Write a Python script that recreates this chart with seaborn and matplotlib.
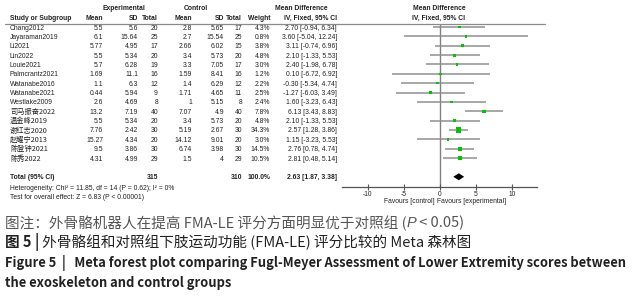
import matplotlib
matplotlib.use("Agg")
import matplotlib.pyplot as plt
import matplotlib.transforms as mtransforms
from matplotlib.lines import Line2D
import seaborn as sns
import pandas as pd

# study-level data
studies = ["Chang2012", "Jayaraman2019", "Li2021", "Lin2022", "Louie2021",
           "Palmcrantz2021", "Watanabe2016", "Watanabe2021", "Westlake2009",
           "司马振奋2022", "温金峰2019", "谢红志2020", "赵耀宁2013",
           "陈登钟2021", "陈秀2022"]
exp_mean = [5.5, 6.1, 5.77, 5.5, 5.7, 1.69, 1.1, 0.44, 2.6, 13.2, 5.5, 7.76, 15.27, 9.5, 4.31]
exp_sd = [5.6, 15.64, 4.95, 5.34, 6.28, 11.1, 6.3, 5.94, 4.69, 7.19, 5.34, 2.42, 4.34, 3.86, 4.99]
exp_n = [20, 25, 17, 20, 19, 16, 12, 9, 8, 40, 20, 30, 20, 30, 29]
ctl_mean = [2.8, 2.7, 2.66, 3.4, 3.3, 1.59, 1.4, 1.71, 1, 7.07, 3.4, 5.19, 14.12, 6.74, 1.5]
ctl_sd = [5.65, 15.54, 6.02, 5.73, 7.05, 8.41, 6.29, 4.65, 5.15, 4.9, 5.73, 2.67, 9.01, 3.98, 4]
ctl_n = [17, 25, 15, 20, 17, 16, 12, 11, 8, 40, 20, 30, 20, 30, 29]
weight = [4.3, 0.8, 3.8, 4.8, 3.0, 1.2, 2.2, 2.5, 2.4, 7.8, 4.8, 34.3, 3.0, 14.5, 10.5]
md = [2.70, 3.60, 3.11, 2.10, 2.40, 0.10, -0.30, -1.27, 1.60, 6.13, 2.10, 2.57, 1.15, 2.76, 2.81]
ci_lo = [-0.94, -5.04, -0.74, -1.33, -1.98, -6.72, -5.34, -6.03, -3.23, 3.43, -1.33, 1.28, -3.23, 0.78, 0.48]
ci_hi = [6.34, 12.24, 6.96, 5.53, 6.78, 6.92, 4.74, 3.49, 6.43, 8.83, 5.53, 3.86, 5.53, 4.74, 5.14]
total_weight = 100.0
total_md, total_lo, total_hi = 2.63, 1.87, 3.38
het_text = "Heterogeneity: Chi² = 11.85, df = 14 (P = 0.62); I² = 0%"
z_text = "Test for overall effect: Z = 6.83 (P < 0.00001)"
xticks = [-10, -5, 0, 5, 10]

W, H = 635, 300
sns.set_theme(style="white")
plt.rcParams["font.family"] = ["Liberation Sans", "Noto Sans CJK SC"]
plt.rcParams["axes.unicode_minus"] = False

TXT = "#222222"
FS = 4.9
BL = 0.27  # baseline offset (rows) so caps sit centred on the row

fig = plt.figure(figsize=(W / 100, H / 100), dpi=100)
fig.patch.set_facecolor("white")

# forest panel: rows 0..14 studies, row 16 total
row_px0, row_step = 27, 9.36
ax_top, ax_bot = 24, 187
ax = fig.add_axes([342 / W, 1 - ax_bot / H, (537 - 342) / W, (ax_bot - ax_top) / H])
ax.set_facecolor("none")

df = pd.DataFrame({"md": md, "lo": ci_lo, "hi": ci_hi, "w": weight,
                   "row": range(len(studies))})
ax.axvline(0, color="#808080", lw=1.0, zorder=0)
ax.hlines(df["row"], df["lo"], df["hi"], color="#8f8f8f", lw=1.1, zorder=1)
sns.scatterplot(data=df, x="md", y="row", size="w", sizes=(3, 16), marker="s",
                color="#00c400", edgecolor="none", legend=False, ax=ax, zorder=3)
trow = len(studies) + 1
d = 0.37
ax.fill([total_lo, total_md, total_hi, total_md], [trow, trow - d, trow, trow + d],
        color="black", lw=0, zorder=3)

ax.set_xlim(-13.6, 13.5)
ax.set_ylim((ax_bot - row_px0) / row_step, (ax_top - row_px0) / row_step)
ax.set_xlabel("")
ax.set_ylabel("")
ax.set_yticks([])
ax.set_xticks(xticks)
ax.set_xticklabels([str(t) for t in xticks])
for s in ["top", "right", "left"]:
    ax.spines[s].set_visible(False)
ax.spines["bottom"].set_color("#555555")
ax.spines["bottom"].set_linewidth(0.9)
ax.tick_params(axis="x", direction="inout", length=4, width=0.8, color="#555555",
               labelsize=4.8, labelcolor=TXT, pad=1, bottom=True)
xa = ax.get_xaxis_transform()
ax.text(-0.7, -0.092, "Favours [control]", transform=xa, ha="right", va="center",
        fontsize=FS, color=TXT)
ax.text(-0.35, -0.092, "Favours [experimental]", transform=xa, ha="left", va="center",
        fontsize=FS, color=TXT)

# table columns (right edges in px)
tr = mtransforms.blended_transform_factory(fig.transFigure, ax.transData)
cols = [103, 138, 158, 192, 224, 242, 270, 337]


def g(v):
    return f"{v:g}"


def cell(x_px, row, s, ha="right", **kw):
    kw.setdefault("fontsize", FS)
    ax.text(x_px / W, row + BL, s, transform=tr, ha=ha, va="baseline",
            color=TXT, clip_on=False, **kw)


for i, name in enumerate(studies):
    if name.isascii():
        cell(10, i, name, ha="left")
    else:
        cell(10, i, name, ha="left", family=["Noto Sans CJK SC"], fontsize=5.2)
    vals = [g(exp_mean[i]), g(exp_sd[i]), str(exp_n[i]), g(ctl_mean[i]), g(ctl_sd[i]),
            str(ctl_n[i]), f"{weight[i]:.1f}%",
            f"{md[i]:.2f} [{ci_lo[i]:.2f}, {ci_hi[i]:.2f}]"]
    for x, v in zip(cols, vals):
        cell(x, i, v)

cell(10, trow, "Total (95% CI)", ha="left", weight="bold")
for x, v in zip([158, 242, 270, 337],
                [str(sum(exp_n)), str(sum(ctl_n)), f"{total_weight:.1f}%",
                 f"{total_md:.2f} [{total_lo:.2f}, {total_hi:.2f}]"]):
    cell(x, trow, v, weight="bold")
cell(10, (187 - row_px0) / row_step, het_text, ha="left")
cell(10, (196 - row_px0) / row_step, z_text, ha="left")

# headers
hy1, hy2 = (7 - row_px0) / row_step, (17 - row_px0) / row_step
cell(124, hy1, "Experimental", ha="center", weight="bold")
cell(196, hy1, "Control", ha="center", weight="bold")
cell(301, hy1, "Mean Difference", ha="center", weight="bold")
cell(439, hy1, "Mean Difference", ha="center", weight="bold")
cell(10, hy2, "Study or Subgroup", ha="left", weight="bold")
for x, v in zip(cols, ["Mean", "SD", "Total", "Mean", "SD", "Total", "Weight",
                       "IV, Fixed, 95% CI"]):
    cell(x, hy2, v, weight="bold")
cell(439, hy2, "IV, Fixed, 95% CI", ha="center", weight="bold")
fig.add_artist(Line2D([5 / W, 545 / W], [1 - 24 / H] * 2, color="#8a8a8a", lw=0.9))

# caption
renderer = fig.canvas.get_renderer()
CAP = ["Noto Sans CJK SC"]
CFS = 10.5


def run(x_px, y_px, pieces):
    x = x_px / W
    for s, kw in pieces:
        kw = dict(kw)
        kw.setdefault("family", CAP)
        t = fig.text(x, 1 - y_px / H, s, ha="left", va="center", **kw)
        x = t.get_window_extent(renderer).x1 / fig.bbox.width


run(5, 223, [("图注：外骨骼机器人在提高 FMA-LE 评分方面明显优于对照组 (",
              dict(fontsize=CFS, color="#555555")),
             ("P", dict(fontsize=CFS, color="#555555", style="italic",
                        family=["Liberation Sans"])),
             (" < 0.05)", dict(fontsize=CFS, color="#555555"))])
run(5, 242, [("图 5 ", dict(fontsize=CFS, color=TXT, weight="bold")),
             ("|", dict(fontsize=CFS, color=TXT, weight="bold")),
             (" 外骨骼组和对照组下肢运动功能 (FMA-LE) 评分比较的 Meta 森林图",
              dict(fontsize=CFS, color=TXT))])
fig.text(5 / W, 1 - 263 / H,
         "Figure 5  |   Meta forest plot comparing Fugl-Meyer Assessment of Lower Extremity scores between",
         ha="left", va="center", family=CAP, fontsize=9.3, weight="bold", color=TXT)
fig.text(5 / W, 1 - 283 / H, "the exoskeleton and control groups",
         ha="left", va="center", family=CAP, fontsize=9.3, weight="bold", color=TXT)

fig.savefig("out.png", dpi=100, facecolor="white")
